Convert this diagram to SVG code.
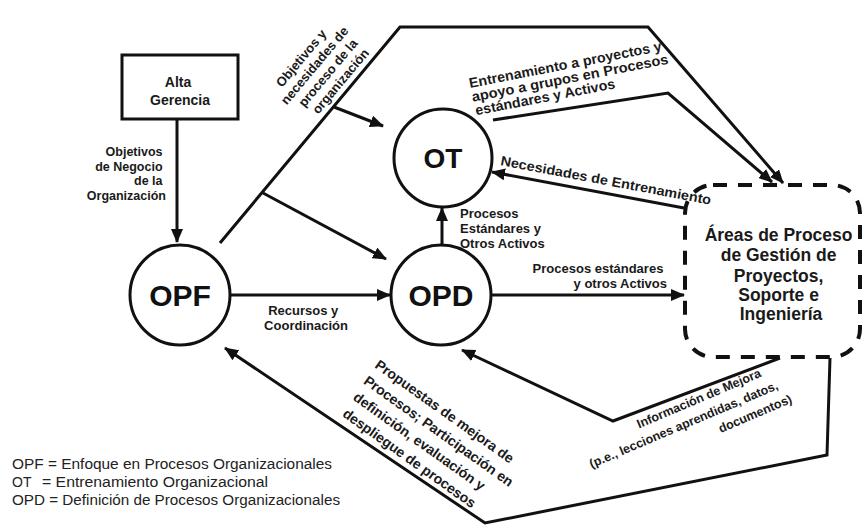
<svg xmlns="http://www.w3.org/2000/svg" width="863" height="525" viewBox="0 0 863 525">
  <style>
    .lbl { font-family: "Liberation Sans", Arial, sans-serif; font-weight: bold; fill: #1a1a1a; }
    .node { fill: #fff; stroke: #111; stroke-width: 3; }
    .big { font-family: "Liberation Sans", Arial, sans-serif; font-weight: bold; fill: #111; text-anchor: middle; }
    .wire { fill: none; stroke: #111; stroke-width: 3; stroke-linejoin: miter; }
    .legend { font-family: "Liberation Sans", Arial, sans-serif; font-size: 14px; fill: #222; }
  </style>
  <defs>
    <marker id="ah" markerWidth="14" markerHeight="12" refX="13" refY="6" orient="auto" markerUnits="userSpaceOnUse">
      <path d="M0,0 L14,6 L0,12 Z" fill="#111"/>
    </marker>
  </defs>

  <rect width="863" height="525" fill="#fff"/>

  <!-- connectors -->
  <g id="connectors">
    <path class="wire" d="M177,120 L177,242" marker-end="url(#ah)"/>
    <path class="wire" d="M230,295 L390,295" marker-end="url(#ah)"/>
    <path class="wire" d="M220,243 L400,27 L648,27 L783,183" marker-end="url(#ah)"/>
    <path class="wire" d="M334,107 L383,126" marker-end="url(#ah)"/>
    <path class="wire" d="M263,193 L386,259" marker-end="url(#ah)"/>
    <path class="wire" d="M442,245 L442,208" marker-end="url(#ah)"/>
    <path class="wire" d="M492,295 L684,295" marker-end="url(#ah)"/>
    <path class="wire" d="M493,120 L668,93 L772,182" marker-end="url(#ah)"/>
    <path class="wire" d="M684,208 L492,172" marker-end="url(#ah)"/>
    <path class="wire" d="M780,358 L613,421 L462,350" marker-end="url(#ah)"/>
    <path class="wire" d="M830,358 L827,455 L485,523 L225,348" marker-end="url(#ah)"/>

    <!-- connector labels -->
    <text class="lbl" font-size="12.5" text-anchor="end">
      <tspan x="166" y="156">Objetivos</tspan>
      <tspan x="166" y="171">de Negocio</tspan>
      <tspan x="166" y="185">de la</tspan>
      <tspan x="166" y="200">Organización</tspan>
    </text>
    <g transform="translate(344,84) rotate(-50)">
      <text class="lbl" font-size="13" text-anchor="middle">
        <tspan x="-6" y="-45">Objetivos y</tspan>
        <tspan x="-3" y="-30">necesidades de</tspan>
        <tspan x="0" y="-15">proceso de la</tspan>
        <tspan x="0" y="0">organización</tspan>
      </text>
    </g>
    <text class="lbl" font-size="13" text-anchor="middle" fill="#333">
      <tspan x="305" y="315">Recursos y</tspan>
      <tspan x="306" y="330">Coordinación</tspan>
    </text>
    <text class="lbl" font-size="13">
      <tspan x="460" y="218">Procesos</tspan>
      <tspan x="460" y="233">Estándares y</tspan>
      <tspan x="460" y="248">Otros Activos</tspan>
    </text>
    <text class="lbl" font-size="13" text-anchor="end">
      <tspan x="667" y="273">Procesos estándares</tspan>
      <tspan x="667" y="288">y otros Activos</tspan>
    </text>
    <g transform="translate(470,88) rotate(-11)">
      <text class="lbl" font-size="14" x="0" y="0" textLength="196" lengthAdjust="spacingAndGlyphs">Entrenamiento a proyectos y</text>
      <text class="lbl" font-size="14" x="0" y="14" textLength="200" lengthAdjust="spacingAndGlyphs">apoyo a grupos en Procesos</text>
      <text class="lbl" font-size="14" x="1" y="28" textLength="142" lengthAdjust="spacingAndGlyphs">estándares y Activos</text>
    </g>
    <g transform="translate(500,165) rotate(10.7)">
      <text class="lbl" font-size="13.5" x="0" y="0" textLength="214" lengthAdjust="spacingAndGlyphs">Necesidades de Entrenamiento</text>
    </g>
    <g transform="translate(765,375) rotate(-23)">
      <text class="lbl" font-size="12.5" text-anchor="end">
        <tspan x="0" y="0">Información de Mejora</tspan>
        <tspan x="11" y="18">(p.e., lecciones aprendidas, datos,</tspan>
        <tspan x="15" y="36">documentos)</tspan>
      </text>
    </g>
    <g transform="translate(374,367) rotate(35.5)">
      <text class="lbl" font-size="14">
        <tspan x="0" y="0">Propuestas de mejora de</tspan>
        <tspan x="0" y="19.5">Procesos; Participación en</tspan>
        <tspan x="1" y="39">definición, evaluación y</tspan>
        <tspan x="2" y="58.5">despliegue de procesos</tspan>
      </text>
    </g>
  </g>

  <!-- nodes -->
  <g id="alta-gerencia">
    <rect x="122" y="55" width="116" height="64" fill="#fff" stroke="#111" stroke-width="3"/>
    <text class="lbl" font-size="14" text-anchor="middle">
      <tspan x="180" y="87">Alta</tspan>
      <tspan x="180" y="105">Gerencia</tspan>
    </text>
  </g>

  <g id="opf">
    <circle class="node" cx="180" cy="295" r="50"/>
    <text class="big" x="180" y="306" font-size="30">OPF</text>
  </g>

  <g id="ot">
    <circle class="node" cx="443" cy="158" r="49"/>
    <text class="big" x="443" y="168" font-size="28">OT</text>
  </g>

  <g id="opd">
    <circle class="node" cx="441" cy="295" r="50"/>
    <text class="big" x="441" y="306" font-size="30">OPD</text>
  </g>

  <g id="process-areas">
    <rect x="685" y="185" width="175" height="172" rx="28" fill="none" stroke="#111" stroke-width="4" stroke-dasharray="14 11"/>
    <text class="lbl" font-size="17.5" text-anchor="middle" fill="#222">
      <tspan x="781" y="241">Áreas de Proceso</tspan>
      <tspan x="781" y="261">de Gestión de</tspan>
      <tspan x="781" y="282">Proyectos,</tspan>
      <tspan x="781" y="301">Soporte e</tspan>
      <tspan x="781" y="320">Ingeniería</tspan>
    </text>
  </g>

  <!-- legend -->
  <g id="legend">
    <text class="legend" x="12" y="469" textLength="320" lengthAdjust="spacingAndGlyphs">OPF = Enfoque en Procesos Organizacionales</text>
    <text class="legend" x="12" y="487">OT</text>
    <text class="legend" x="42" y="487" textLength="226" lengthAdjust="spacingAndGlyphs">= Entrenamiento Organizacional</text>
    <text class="legend" x="12" y="505" textLength="328" lengthAdjust="spacingAndGlyphs">OPD = Definición de Procesos Organizacionales</text>
  </g>
</svg>
